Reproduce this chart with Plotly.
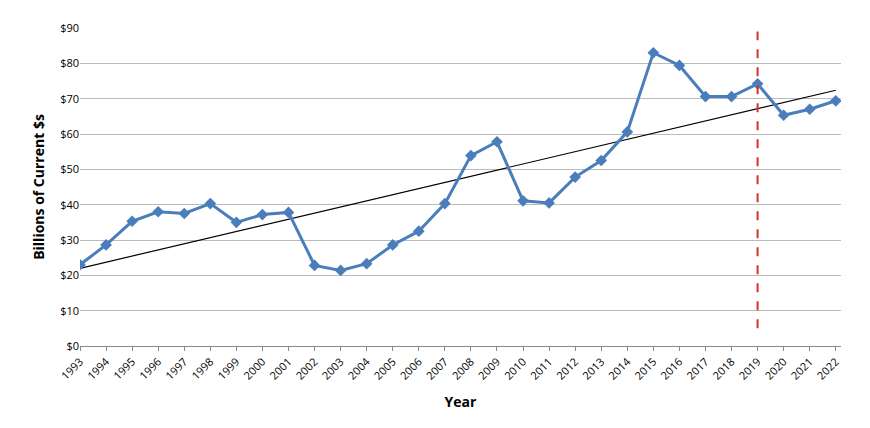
import numpy as np
import plotly.graph_objs as go

years = list(range(1993, 2023))
values = [23.0, 28.6, 35.3, 38.0, 37.5, 40.3, 35.0, 37.2, 37.8, 22.8,
          21.4, 23.3, 28.6, 32.5, 40.3, 53.9, 57.8, 41.1, 40.5, 47.8,
          52.5, 60.6, 83.0, 79.4, 70.6, 70.6, 74.2, 65.3, 67.0, 69.4]
marker_year = 2019
dash_range = [5, 89]

# linear trend line
coef = np.polyfit(years, values, 1)
trend = np.polyval(coef, years)

fig = go.Figure()
fig.add_trace(go.Scatter(x=years, y=trend, mode="lines",
                         line=dict(color="black", width=1.2), hoverinfo="skip"))
fig.add_trace(go.Scatter(x=years, y=values, mode="lines+markers",
                         line=dict(color="#4a7ebb", width=3),
                         marker=dict(symbol="diamond", size=9, color="#4a7ebb")))
fig.add_trace(go.Scatter(x=[marker_year, marker_year], y=dash_range, mode="lines",
                         line=dict(color="#d9302c", width=2, dash="dash")))

fig.update_layout(
    width=870, height=428, showlegend=False,
    plot_bgcolor="white", paper_bgcolor="white",
    margin=dict(l=72, r=37, t=13, b=90),
    font=dict(family="Open Sans", size=11, color="black"),
    xaxis=dict(title=dict(text="<b>Year</b>", font=dict(size=14)),
               tickmode="array", tickvals=years, ticktext=[str(y) for y in years],
               tickangle=-45, range=[1993, 2022.2], showgrid=False,
               showline=True, linecolor="#888", ticks="outside", ticklen=4, tickcolor="#888"),
    yaxis=dict(title=dict(text="<b>Billions of Current $s</b>", font=dict(size=14), standoff=12),
               range=[0, 90], dtick=10, tickprefix="$",
               showgrid=True, gridcolor="#bbbbbb", zeroline=False,
               showline=False),
)

fig.write_html("out.html")
